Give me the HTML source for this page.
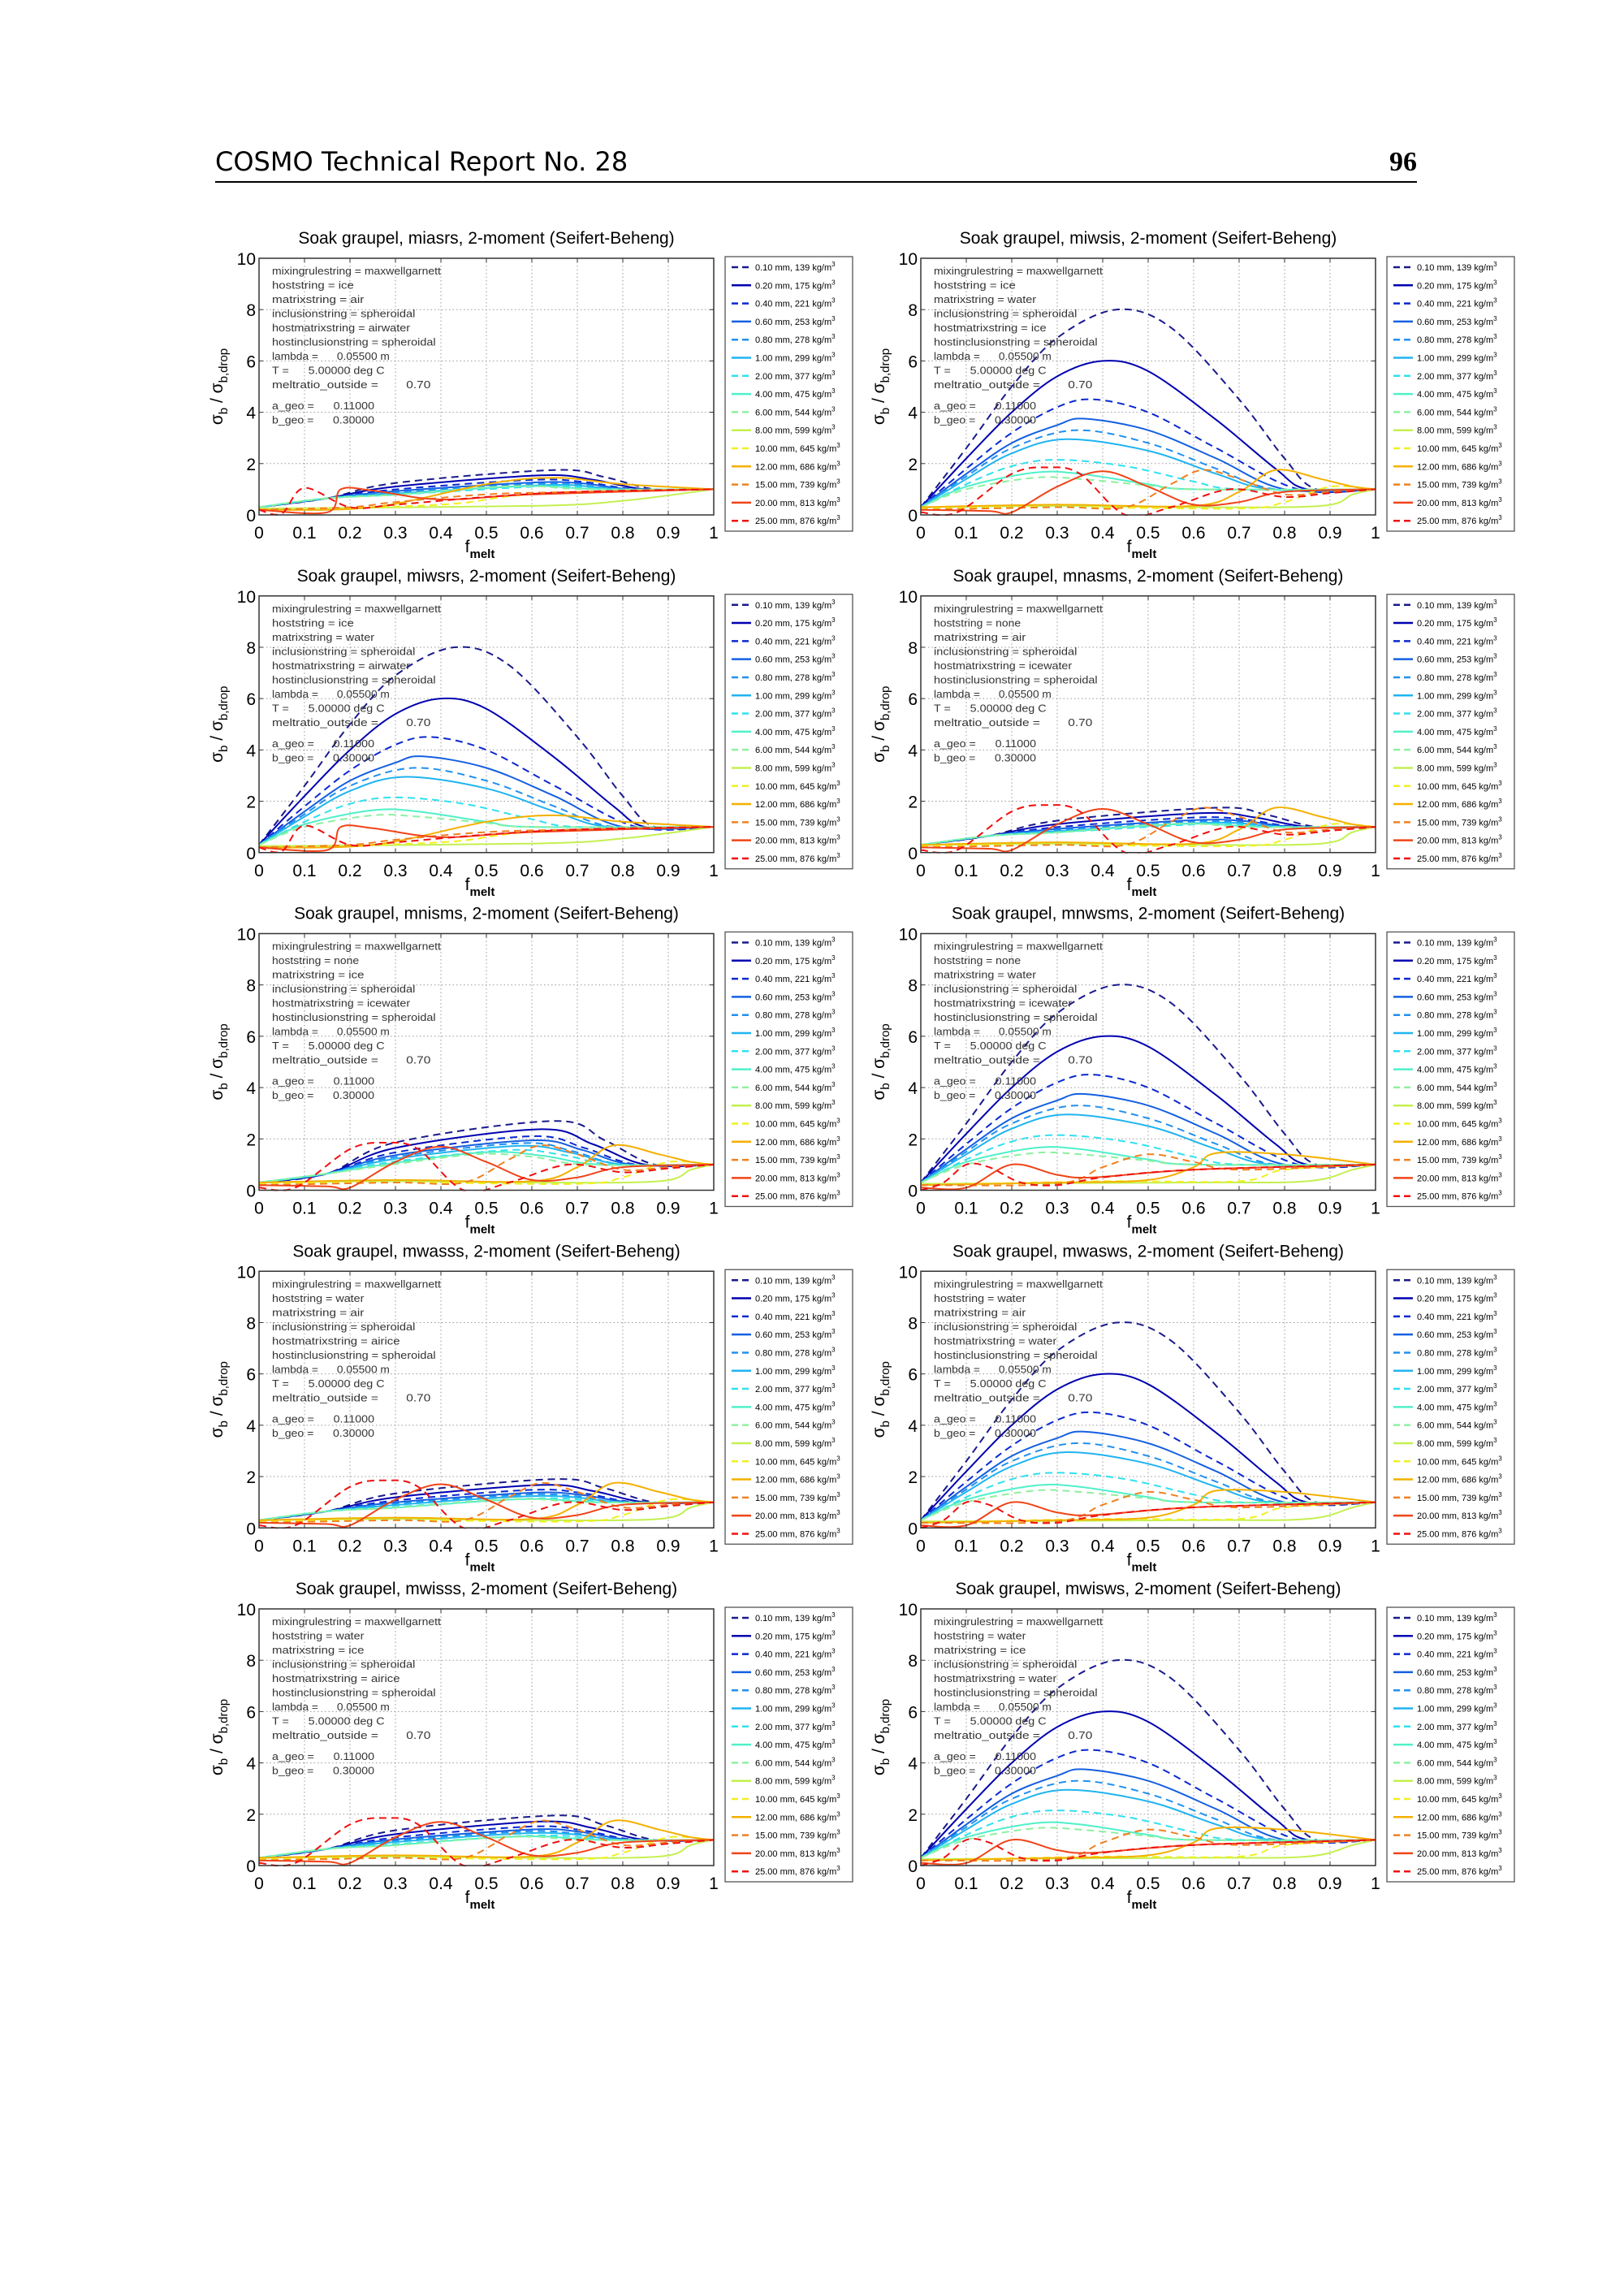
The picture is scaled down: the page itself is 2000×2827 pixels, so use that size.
<!DOCTYPE html>
<html><head><meta charset="utf-8"><style>
html,body{margin:0;padding:0;background:#fff}
body{width:2000px;height:2827px;position:relative;overflow:hidden;font-family:"Liberation Sans",sans-serif}
</style></head><body>
<svg id="s" width="2000" height="2827" xmlns="http://www.w3.org/2000/svg" style="position:absolute;left:0;top:0">
<text x="265" y="210" font-family="DejaVu Sans, Liberation Sans, sans-serif" font-size="32" fill="#000">COSMO Technical Report No. 28</text>
<text x="1745" y="210" text-anchor="end" font-family="Liberation Serif, serif" font-weight="bold" font-size="34" fill="#000">96</text>
<line x1="265" y1="224" x2="1745" y2="224" stroke="#000" stroke-width="2"/>
</svg>
<script>
var svg=document.getElementById('s');var out='';
var cols=['#1a1a8c','#0000b0','#0a28d0','#1560e0','#2090f0','#20b4f0','#30e0f0','#50f0c8','#8ef0a0','#c4f050','#f0f020','#f4b000','#f08020','#f04418','#f01010'];
var labels=['0.10 mm, 139','0.20 mm, 175','0.40 mm, 221','0.60 mm, 253','0.80 mm, 278','1.00 mm, 299','2.00 mm, 377','4.00 mm, 475','6.00 mm, 544','8.00 mm, 599','10.00 mm, 645','12.00 mm, 686','15.00 mm, 739','20.00 mm, 813','25.00 mm, 876'];
var dashed=[1,0,1,0,1,0,1,0,1,0,1,0,1,0,1];
var B=[
[[0,.3],[.1,2.6],[.2,5],[.3,6.9],[.43,8],[.55,7.3],[.7,4.5],[.8,2.2],[.87,1],[1,1]],
[[0,.3],[.1,2.2],[.2,4],[.3,5.4],[.4,6],[.5,5.6],[.65,3.7],[.78,1.8],[.85,1],[1,1]],
[[0,.3],[.1,1.8],[.2,3.2],[.3,4.2],[.38,4.5],[.5,4],[.65,2.6],[.83,1],[1,1]],
[[0,.3],[.1,1.6],[.2,2.8],[.3,3.5],[.36,3.75],[.5,3.3],[.65,2.2],[.8,1],[1,1]],
[[0,.3],[.1,1.5],[.2,2.6],[.34,3.3],[.5,2.8],[.65,1.8],[.78,1],[1,1]],
[[0,.3],[.1,1.4],[.2,2.4],[.32,2.95],[.5,2.5],[.65,1.6],[.77,1],[1,1]],
[[0,.3],[.1,1.2],[.2,1.9],[.3,2.15],[.45,1.9],[.6,1.3],[.7,1],[1,1]],
[[0,.3],[.1,1.1],[.25,1.65],[.35,1.6],[.5,1.2],[.6,1],[1,1]],
[[0,.3],[.1,1],[.25,1.45],[.35,1.4],[.5,1.15],[.6,1],[1,1]],
[[0,.3],[.3,.35],[.6,.3],[.88,.35],[.95,.8],[1,1]],
[[0,.25],[.3,.3],[.7,.25],[.8,.5],[.9,1.1],[1,1]],
[[0,.3],[.3,.4],[.6,.35],[.7,.9],[.78,1.75],[.88,1.4],[.95,1.1],[1,1]],
[[0,.2],[.3,.3],[.45,.3],[.55,1.2],[.62,1.75],[.7,1.4],[.8,.8],[.9,.9],[1,1]],
[[0,.2],[.15,.15],[.2,.1],[.3,1.1],[.4,1.7],[.5,1.1],[.6,.4],[.7,.5],[.8,.9],[1,1]],
[[0,.1],[.08,.1],[.2,1.6],[.28,1.85],[.35,1.6],[.45,0],[.55,.3],[.68,1],[.8,.7],[.9,.85],[1,1]]
];
function small(pk){
 var r=[];var peaks=[pk,pk*.88,pk*.78,pk*.72,pk*.68,pk*.64,pk*.58,pk*.55,pk*.52];
 var px=[.65,.62,.6,.6,.58,.57,.55,.5,.48];var ends=[.87,.85,.83,.82,.8,.8,.78,.75,.72];
 for(var i=0;i<9;i++){var p=Math.max(peaks[i],1.05);r.push([[0,.3],[.15,.65],[.3,.3+(p-.3)*.65],[px[i],p],[(px[i]+ends[i])/2,(p+1)/2+.1],[ends[i],1],[1,1]]);}
 return r;}
var redsMiasrs=[
[[0,.25],[.6,.35],[.8,.55],[1,1]],
[[0,.2],[.4,.4],[.6,.8],[1,1]],
[[0,.2],[.25,.3],[.5,1.2],[.65,1.45],[.8,1.2],[1,1]],
[[0,.2],[.2,.3],[.3,.5],[.5,.8],[.7,.9],[1,1]],
[[0,.2],[.15,.1],[.18,1],[.25,.95],[.4,.6],[.6,.8],[1,1]],
[[0,.2],[.05,.05],[.1,1.05],[.2,.3],[.3,.4],[.5,.7],[.7,.9],[1,1]]];
var redsSmallHumps=[
[[0,.25],[.6,.3],[.85,.35],[.95,.8],[1,1]],
[[0,.2],[.4,.35],[.7,.35],[.8,.8],[1,1]],
[[0,.2],[.3,.3],[.5,.4],[.6,.9],[.65,1.45],[.8,1.4],[1,1]],
[[0,.2],[.3,.25],[.4,.9],[.5,1.4],[.6,1.1],[.7,.8],[1,1]],
[[0,.1],[.1,.1],[.2,1],[.3,.6],[.38,.5],[.6,.8],[1,1]],
[[0,0],[.05,.3],[.1,1],[.15,.9],[.22,.3],[.3,.2],[.4,.5],[.6,.8],[1,1]]];
function cat(pts,X,Y){var s='M'+X(pts[0][0]).toFixed(1)+','+Y(pts[0][1]).toFixed(1);
 for(var i=0;i<pts.length-1;i++){var p0=pts[Math.max(0,i-1)],p1=pts[i],p2=pts[i+1],p3=pts[Math.min(pts.length-1,i+2)];
  var c1x=p1[0]+(p2[0]-p0[0])/6,c1y=p1[1]+(p2[1]-p0[1])/6,c2x=p2[0]-(p3[0]-p1[0])/6,c2y=p2[1]-(p3[1]-p1[1])/6;
  s+='C'+X(c1x).toFixed(1)+','+Y(c1y).toFixed(1)+' '+X(c2x).toFixed(1)+','+Y(c2y).toFixed(1)+' '+X(p2[0]).toFixed(1)+','+Y(p2[1]).toFixed(1);}
 return s;}
var panels=[
['miasrs','ice','air','airwater','A',1.75,'m'],
['miwsis','ice','water','ice','B'],
['miwsrs','ice','water','airwater','B',0,'m'],
['mnasms','none','air','icewater','A',1.75,'b'],
['mnisms','none','ice','icewater','A',2.7,'b'],
['mnwsms','none','water','icewater','B',0,'s'],
['mwasss','water','air','airice','A',1.9,'b'],
['mwasws','water','air','water','B',0,'s'],
['mwisss','water','ice','airice','A',1.95,'b'],
['mwisws','water','ice','water','B',0,'s']];
var W=560,H=316;
panels.forEach(function(p,k){
 var col=k%2,row=Math.floor(k/2);
 var L=col?1134:319,Bt=634+row*415.75,T=Bt-H;
 var X=function(x){return L+x*W},Y=function(y){return Bt-y*H/10};
 for(var i=1;i<10;i++)out+='<line x1="'+X(i/10)+'" y1="'+T+'" x2="'+X(i/10)+'" y2="'+Bt+'" stroke="#999" stroke-width="1" stroke-dasharray="1.5,3"/>';
 for(var j=1;j<5;j++)out+='<line x1="'+L+'" y1="'+Y(j*2)+'" x2="'+(L+W)+'" y2="'+Y(j*2)+'" stroke="#999" stroke-width="1" stroke-dasharray="1.5,3"/>';
 var ser;
 if(p[4]=='B'){ser=B.slice(0,9);}else ser=small(p[5]);
 var reds;
 if(p[6]=='m')reds=redsMiasrs;else if(p[6]=='s')reds=redsSmallHumps;else reds=B.slice(9);
 ser=ser.concat(reds);
 var svgc='';
 ser.forEach(function(pts,i){svgc+='<path d="'+cat(pts,X,Y)+'" fill="none" stroke="'+cols[i]+'" stroke-width="2"'+(dashed[i]?' stroke-dasharray="9,6"':'')+'/>';});
 out+='<clipPath id="c'+k+'"><rect x="'+L+'" y="'+(T-2)+'" width="'+W+'" height="'+(H+3)+'"/></clipPath><g clip-path="url(#c'+k+')">'+svgc+'</g>';
 out+='<rect x="'+L+'" y="'+T+'" width="'+W+'" height="'+H+'" fill="none" stroke="#333" stroke-width="1.5"/>';
 for(var i=0;i<=10;i++){out+='<line x1="'+X(i/10)+'" y1="'+Bt+'" x2="'+X(i/10)+'" y2="'+(Bt-5)+'" stroke="#333"/><line x1="'+X(i/10)+'" y1="'+T+'" x2="'+X(i/10)+'" y2="'+(T+5)+'" stroke="#333"/>';
  out+='<text x="'+X(i/10)+'" y="'+(Bt+29)+'" text-anchor="middle" font-size="21">'+(i==0?'0':i==10?'1':'0.'+i)+'</text>';}
 for(var j=0;j<=5;j++){out+='<line x1="'+L+'" y1="'+Y(j*2)+'" x2="'+(L+5)+'" y2="'+Y(j*2)+'" stroke="#333"/><line x1="'+(L+W)+'" y1="'+Y(j*2)+'" x2="'+(L+W-5)+'" y2="'+Y(j*2)+'" stroke="#333"/>';
  out+='<text x="'+(L-4)+'" y="'+(Y(j*2)+8)+'" text-anchor="end" font-size="21">'+(j*2)+'</text>';}
 out+='<text x="'+(L+W/2)+'" y="'+(T-18)+'" text-anchor="middle" font-size="21">Soak graupel, '+p[0]+', 2-moment (Seifert-Beheng)</text>';
 out+='<text x="'+(L+W/2-8)+'" y="'+(Bt+46)+'" text-anchor="middle" font-size="21">f<tspan font-size="15" dy="7" font-weight="bold">melt</tspan></text>';
 out+='<text transform="translate('+(L-45)+','+(T+H/2)+') rotate(-90)" text-anchor="middle" font-size="21">σ<tspan font-size="15" dy="6">b</tspan><tspan dy="-6"> / σ</tspan><tspan font-size="15" dy="6">b,drop</tspan></text>';
 var info=['mixingrulestring = maxwellgarnett','hoststring = '+p[1],'matrixstring = '+p[2],'inclusionstring = spheroidal','hostmatrixstring = '+p[3],'hostinclusionstring = spheroidal','lambda =      0.05500 m','T =      5.00000 deg C','meltratio_outside =        0.70','','a_geo =      0.11000','b_geo =      0.30000'];
 var yy=T+20;info.forEach(function(s,i){if(s)out+='<text x="'+(L+16)+'" y="'+(yy+i*17.5-(i>9?9:0))+'" font-size="12.5" fill="#333" xml:space="preserve" textLength="'+(s.length*6.3)+'" lengthAdjust="spacingAndGlyphs">'+s+'</text>';});
 var lx=L+574,ly=T-2;
 out+='<rect x="'+lx+'" y="'+ly+'" width="157" height="338" fill="#fff" stroke="#555" stroke-width="1.3"/>';
 for(var i=0;i<15;i++){var ey=ly+13+i*22.3;
  out+='<line x1="'+(lx+8)+'" y1="'+ey+'" x2="'+(lx+32)+'" y2="'+ey+'" stroke="'+cols[i]+'" stroke-width="2.5"'+(dashed[i]?' stroke-dasharray="8,5"':'')+'/>';
  out+='<text x="'+(lx+37)+'" y="'+(ey+4)+'" font-size="11">'+labels[i]+' kg/m<tspan font-size="8" dy="-5">3</tspan></text>';}
});
svg.insertAdjacentHTML('beforeend',out);
</script>
</body></html>
